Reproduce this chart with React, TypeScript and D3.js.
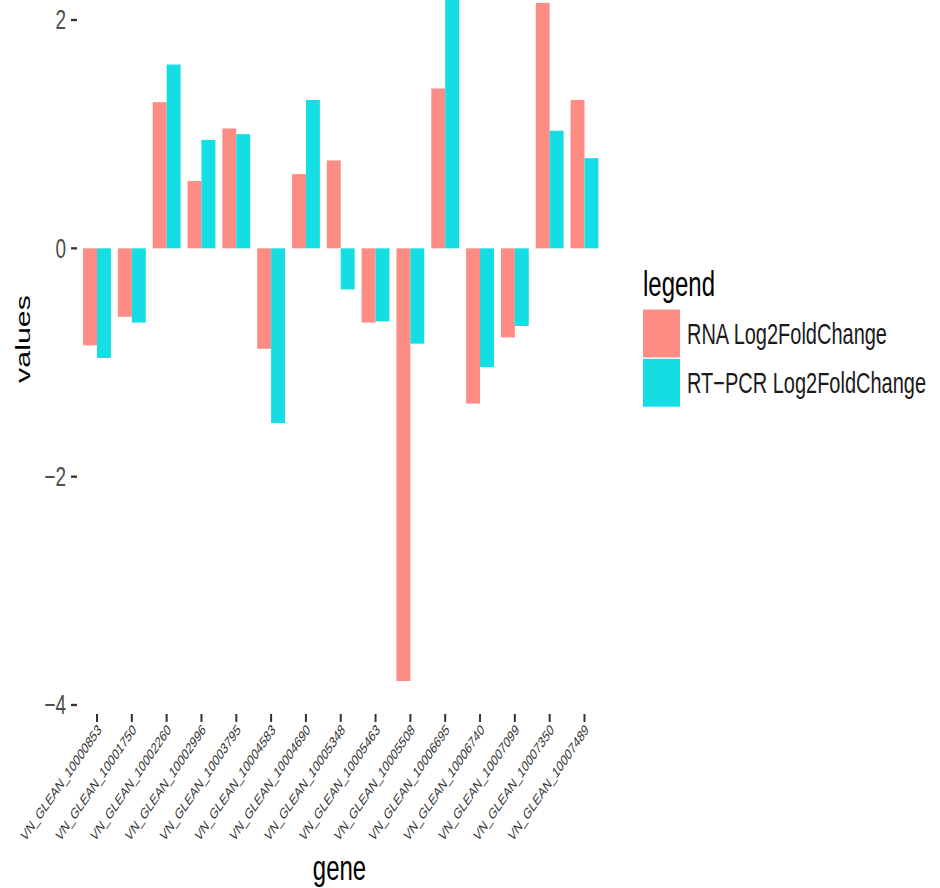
import React, {useEffect, useRef} from 'react';
import * as d3 from 'd3';

const genes = [
    'VN_GLEAN_10000853', 'VN_GLEAN_10001750', 'VN_GLEAN_10002260', 'VN_GLEAN_10002996',
    'VN_GLEAN_10003795', 'VN_GLEAN_10004583', 'VN_GLEAN_10004690', 'VN_GLEAN_10005348',
    'VN_GLEAN_10005463', 'VN_GLEAN_10005508', 'VN_GLEAN_10006695', 'VN_GLEAN_10006740',
    'VN_GLEAN_10007099', 'VN_GLEAN_10007350', 'VN_GLEAN_10007489'
];
const rnaValues = [-0.85, -0.60, 1.28, 0.59, 1.05, -0.88, 0.65, 0.77, -0.65, -3.79, 1.40, -1.36, -0.78, 2.15, 1.30];
const pcrValues = [-0.96, -0.65, 1.61, 0.95, 1.00, -1.53, 1.30, -0.36, -0.64, -0.835, 2.35, -1.04, -0.68, 1.03, 0.79];
const seriesNames = ['RNA Log2FoldChange', 'RT\u2212PCR Log2FoldChange'];
const seriesColors = ['#FD8C84', '#14DDE3'];
const yTicks = [-4, -2, 0, 2];

export default function App() {
    const ref = useRef<SVGSVGElement>(null);

    useEffect(() => {
        const width = 940;
        const height = 888;
        const K = 1.45; // the picture is stretched vertically
        const font = 'Liberation Sans, Arial, sans-serif';

        const svg = d3.select(ref.current);
        svg.selectAll('*').remove();
        svg.attr('width', width).attr('height', height);

        const g = svg.append('g').attr('transform', `scale(1,${K})`);

        const y = d3.scaleLinear().domain([-4, 2]).range([486.2, 13.8]);
        const x = d3.scaleBand().domain(genes).range([79.6, 601.9]).padding(0);
        const bw = x.bandwidth();
        const groupW = bw * 0.8;
        const sub = d3.scaleBand().domain(['0', '1']).range([0, groupW]);
        const panelBottom = 492.4;

        const rows = genes.map((gene, i) => ({gene, vals: [rnaValues[i], pcrValues[i]]}));

        // bars
        const groups = g.selectAll('g.grp').data(rows).enter().append('g')
            .attr('class', 'grp')
            .attr('transform', d => `translate(${x(d.gene)! + (bw - groupW) / 2},0)`);

        groups.selectAll('rect')
            .data(d => d.vals.map((v, k) => ({v, k})))
            .enter().append('rect')
            .attr('x', d => sub(String(d.k))!)
            .attr('width', sub.bandwidth())
            .attr('y', d => y(Math.max(0, d.v)))
            .attr('height', d => Math.abs(y(d.v) - y(0)))
            .style('fill', d => seriesColors[d.k]);

        // y axis
        yTicks.forEach(t => {
            g.append('line')
                .attr('x1', 71).attr('x2', 77)
                .attr('y1', y(t)).attr('y2', y(t))
                .attr('stroke', '#333').attr('stroke-width', 1.6);
            g.append('text')
                .attr('x', 66).attr('y', y(t))
                .attr('text-anchor', 'end')
                .attr('dominant-baseline', 'central')
                .attr('font-family', font).attr('font-size', 19)
                .attr('fill', '#4D4D4D')
                .text(t < 0 ? '\u2212' + Math.abs(t) : String(t));
        });

        // x axis
        genes.forEach(gene => {
            const cx = x(gene)! + bw / 2;
            g.append('line')
                .attr('x1', cx).attr('x2', cx)
                .attr('y1', panelBottom).attr('y2', panelBottom + 5.5)
                .attr('stroke', '#333').attr('stroke-width', 2);
            g.append('text')
                .attr('transform', `translate(${cx + 5},504) rotate(-45)`)
                .attr('text-anchor', 'end')
                .attr('font-family', font).attr('font-size', 10.5)
                .attr('fill', '#333')
                .text(gene);
        });

        // axis titles
        g.append('text')
            .attr('transform', `translate(23,233.8) rotate(-90)`)
            .attr('text-anchor', 'middle')
            .attr('dominant-baseline', 'central')
            .attr('font-family', font).attr('font-size', 21)
            .attr('fill', '#000')
            .text('values');

        g.append('text')
            .attr('x', 339.5).attr('y', 607)
            .attr('text-anchor', 'middle')
            .attr('font-family', font).attr('font-size', 24)
            .attr('fill', '#000')
            .text('gene');

        // legend
        g.append('text')
            .attr('x', 643).attr('y', 204)
            .attr('font-family', font).attr('font-size', 24)
            .attr('fill', '#000')
            .text('legend');

        seriesNames.forEach((name, i) => {
            const ky = 213.5 + i * 34;
            g.append('rect')
                .attr('x', 643).attr('y', ky)
                .attr('width', 37).attr('height', 33)
                .style('fill', seriesColors[i]);
            g.append('text')
                .attr('x', 687).attr('y', ky + 16.5)
                .attr('dominant-baseline', 'central')
                .attr('font-family', font).attr('font-size', 20)
                .attr('fill', '#1A1A1A')
                .text(name);
        });
    }, []);

    return (
        <div id='chartArea'>
            <svg ref={ref} style={{position: 'absolute', left: 0, top: 0, background: '#fff'}}/>
        </div>
    );
}
